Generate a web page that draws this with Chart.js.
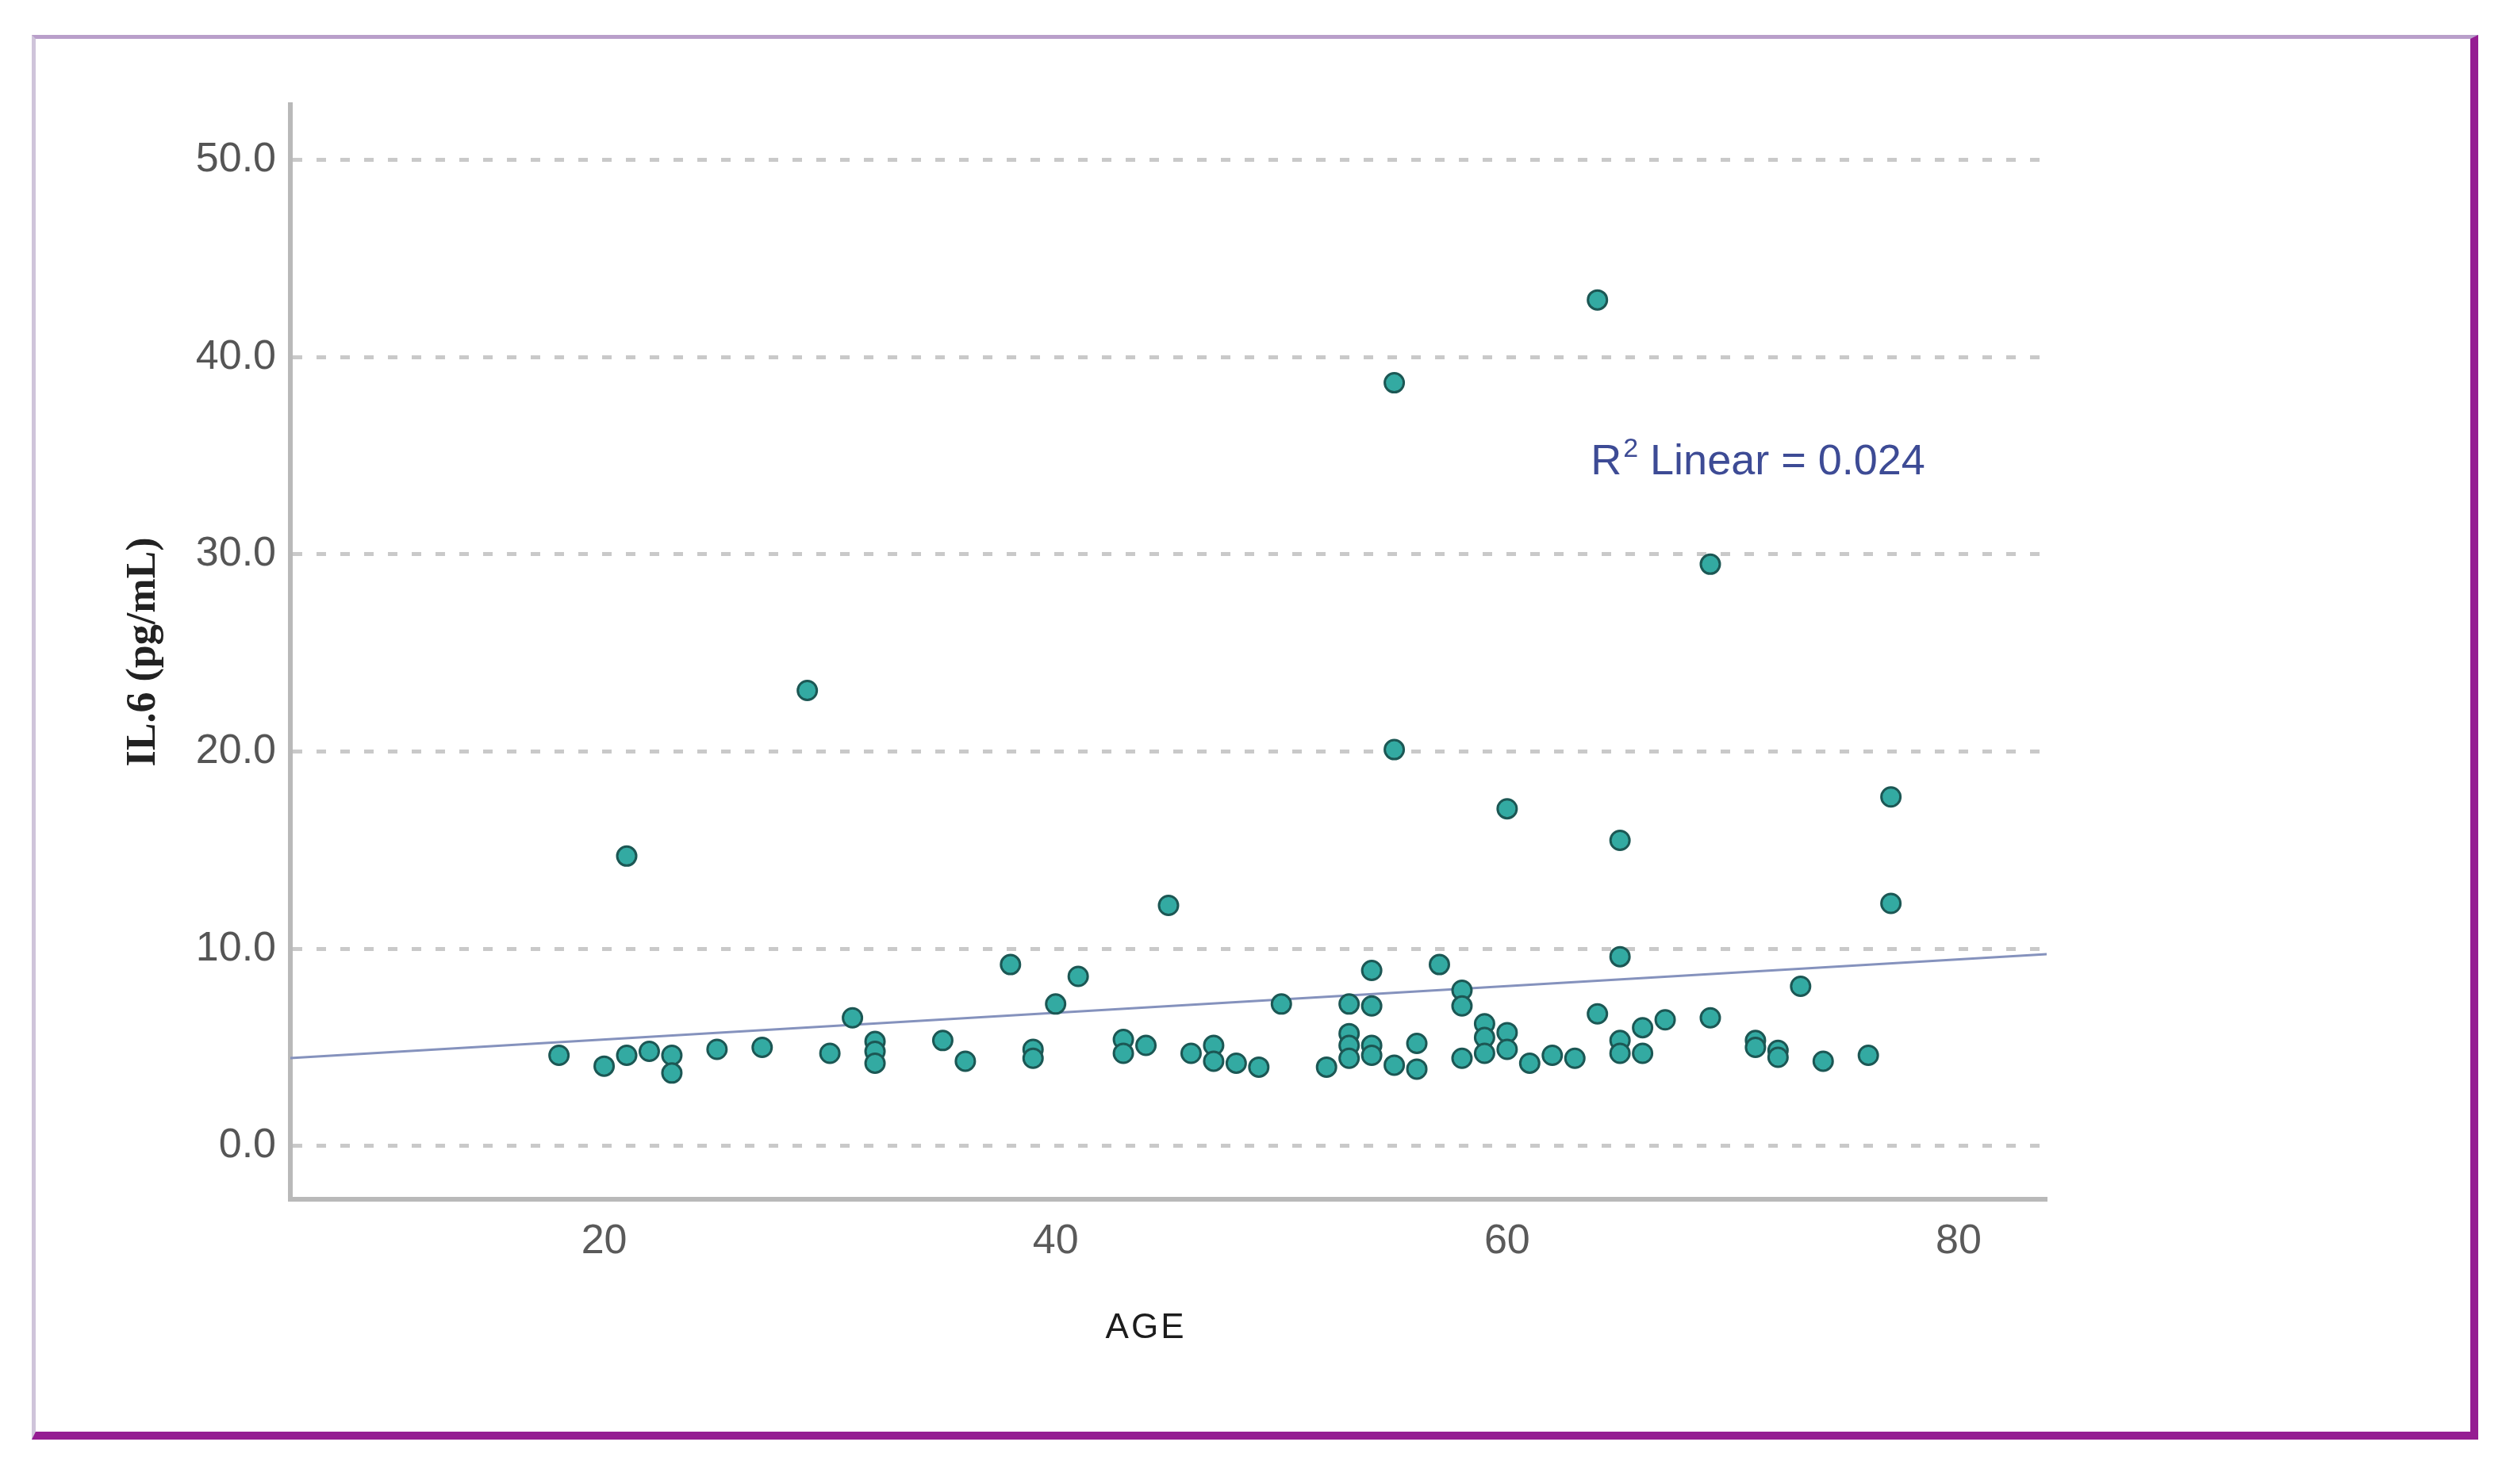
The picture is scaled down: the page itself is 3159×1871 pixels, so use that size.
<!DOCTYPE html>
<html>
<head>
<meta charset="utf-8">
<title>IL6 vs AGE</title>
<script src="https://cdn.jsdelivr.net/npm/chart.js@4.4.1/dist/chart.umd.min.js"></script>
<style>
    html, body { margin: 0; padding: 0; background: #ffffff; }
    body { width: 3159px; height: 1871px; position: relative; overflow: hidden; }
    #frame {
        position: absolute;
        left: 40px; top: 44px;
        width: 3069px; height: 1756px;
        border-top: 5px solid #b99fca;
        border-left: 5px solid #cfc4da;
        border-right: 10px solid #951d92;
        border-bottom: 10px solid #951d92;
    }
    #chart { position: absolute; left: 0; top: 0; }
</style>
</head>
<body>
<div id="frame"></div>
<canvas id="chart" width="3159" height="1871" style="width:3159px;height:1871px"></canvas>
<script>
const ages = [18, 20, 21, 21, 22, 23, 23, 25, 27, 29,
              30, 31, 32, 32, 32, 35, 36, 38, 39, 39,
              40, 41, 43, 43, 44, 45, 46, 47, 47, 48,
              49, 50, 52, 53, 53, 53, 53, 54, 54, 54,
              54, 55, 55, 55, 56, 56, 57, 58, 58, 58,
              59, 59, 59, 60, 60, 60, 61, 62, 63, 64,
              64, 65, 65, 65, 65, 66, 66, 67, 69, 69,
              71, 71, 72, 72, 73, 74, 76, 77, 77];
const il6 = [4.6, 4.05, 14.7, 4.6, 4.8, 4.6, 3.7, 4.9, 5.0, 23.1,
             4.7, 6.5, 5.3, 4.8, 4.2, 5.35, 4.3, 9.2, 4.9, 4.45,
             7.2, 8.6, 5.4, 4.7, 5.1, 12.2, 4.7, 5.1, 4.3, 4.2,
             4.0, 7.2, 4.0, 7.2, 5.7, 5.1, 4.45, 8.9, 7.1, 5.1,
             4.6, 38.7, 20.1, 4.1, 5.2, 3.9, 9.2, 7.9, 7.1, 4.45,
             6.2, 5.5, 4.7, 17.1, 5.75, 4.9, 4.2, 4.6, 4.45, 42.9,
             6.7, 15.5, 9.6, 5.35, 4.7, 6.0, 4.7, 6.4, 29.5, 6.5,
             5.35, 5.0, 4.85, 4.5, 8.1, 4.3, 4.6, 17.7, 12.3];

// Fit line end points as drawn in the figure
const fitX = [6.1, 83.9];
const fitY = [4.46, 9.73];

// Axis ticks
const xTicks = [20, 40, 60, 80];
const yTicks = [0, 10, 20, 30, 40, 50];

// Fit annotation and where it sits (data units)
const fitLabel = { main: 'R', sup: '2', rest: ' Linear = 0.024', x: 63.7, y: 34.05 };

// x axis title, centred on this age
const xTitle = { text: 'AGE', x: 44.0 };

const scatterPoints = ages.map((a, i) => ({ x: a, y: il6[i] }));
const fitPoints = fitX.map((x, i) => ({ x: x, y: fitY[i] }));

/**
 * Draws the R squared label and the x axis title
 */
const textPlugin = {
    id: 'fitLabel',
    afterDatasetsDraw(chart) {
        const { ctx, scales } = chart;
        const px = scales.x.getPixelForValue(fitLabel.x);
        const py = scales.y.getPixelForValue(fitLabel.y);
        ctx.save();
        ctx.fillStyle = '#3d4b95';
        ctx.textBaseline = 'alphabetic';
        ctx.textAlign = 'left';
        ctx.font = '54px "Liberation Sans", Arial, sans-serif';
        ctx.fillText(fitLabel.main, px, py);
        let w = ctx.measureText(fitLabel.main).width;
        ctx.font = '34px "Liberation Sans", Arial, sans-serif';
        ctx.fillText(fitLabel.sup, px + w + 2, py - 22);
        w += ctx.measureText(fitLabel.sup).width + 2;
        ctx.font = '54px "Liberation Sans", Arial, sans-serif';
        ctx.fillText(fitLabel.rest, px + w, py);

        // AGE sits below the tick labels
        ctx.fillStyle = '#1c1c1c';
        ctx.textAlign = 'center';
        ctx.textBaseline = 'middle';
        ctx.font = '44px "Liberation Sans", Arial, sans-serif';
        ctx.letterSpacing = '3px';
        ctx.fillText(xTitle.text, scales.x.getPixelForValue(xTitle.x), scales.x.bottom - 57);
        ctx.restore();
    }
};

const config = {
    type: 'scatter',
    data: {
        datasets: [{
            label: 'IL6',
            data: scatterPoints,
            backgroundColor: '#33aaa2',
            borderColor: '#1c5754',
            borderWidth: 3,
            pointRadius: 12,
            pointHoverRadius: 12,
            order: 1
        }, {
            type: 'line',
            label: 'Linear',
            data: fitPoints,
            borderColor: '#8592bd',
            borderWidth: 3,
            pointRadius: 0,
            fill: false,
            order: 2
        }]
    },
    options: {
        responsive: false,
        animation: false,
        events: [],
        layout: {
            padding: { left: 0, top: 132, right: 579, bottom: 139 }
        },
        plugins: {
            legend: { display: false },
            tooltip: { enabled: false }
        },
        scales: {
            x: {
                type: 'linear',
                min: 6.1,
                max: 83.9,
                afterFit: function(scale) { scale.height = 220; },
                afterBuildTicks: function(scale) {
                    scale.ticks = xTicks.map(v => ({ value: v }));
                },
                grid: { display: false, drawTicks: false },
                border: { display: true, color: '#b9b9b9', width: 6 },
                ticks: {
                    color: '#5a5a5a',
                    padding: 22,
                    font: { family: '"Liberation Sans", Arial, sans-serif', size: 52 },
                    callback: function(value) { return String(value); }
                },
                title: { display: false }
            },
            y: {
                type: 'linear',
                min: -2.7,
                max: 52.8,
                afterFit: function(scale) { scale.width = 366; },
                afterBuildTicks: function(scale) {
                    scale.ticks = yTicks.map(v => ({ value: v }));
                },
                grid: {
                    color: '#c9c9c9',
                    lineWidth: 5,
                    drawTicks: false
                },
                border: { display: true, color: '#b9b9b9', width: 6, dash: [12, 18] },
                ticks: {
                    color: '#555555',
                    padding: 18,
                    font: { family: '"Liberation Sans", Arial, sans-serif', size: 52 },
                    callback: function(value) { return value.toFixed(1); }
                },
                title: {
                    display: true,
                    text: 'IL.6 (pg/mL)',
                    color: '#222222',
                    padding: { top: 150, bottom: 0 },
                    font: { family: '"Liberation Serif", "Times New Roman", serif', size: 52, weight: 'bold' }
                }
            }
        }
    },
    plugins: [textPlugin]
};

new Chart(document.getElementById('chart'), config);
</script>
</body>
</html>
